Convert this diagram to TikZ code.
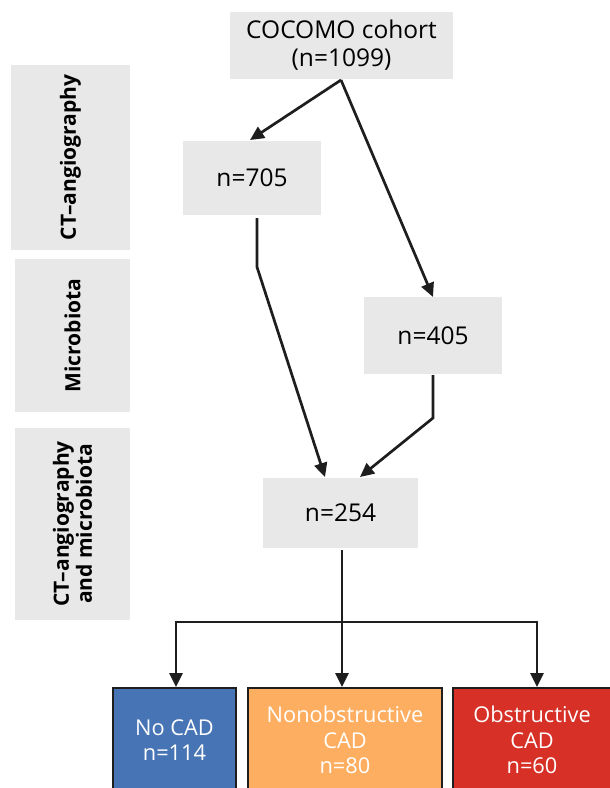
\documentclass[tikz,border=0pt]{standalone}
\usepackage{fontspec}
\setmainfont{Open Sans}
\usetikzlibrary{arrows.meta}
\definecolor{boxgray}{HTML}{E8E8E8}
\definecolor{cadblue}{HTML}{4674B4}
\definecolor{cadorange}{HTML}{FDAE61}
\definecolor{cadred}{HTML}{D73027}
\definecolor{linedark}{HTML}{1E1E1E}
\tikzset{
  graybox/.style={fill=boxgray, draw=none, inner sep=0pt, align=center, text=black, font=\fontsize{24.5}{28}\selectfont},
  sidebox/.style={fill=boxgray, draw=none, inner sep=0pt},
  sidetext/.style={rotate=90, align=center, font=\bfseries\fontsize{21}{23}\selectfont},
  cadbox/.style={draw=linedark, line width=1.5pt, inner sep=0pt},
  cadtext/.style={text=white, align=center, font=\fontsize{21.8}{25.5}\selectfont},
  conn/.style={draw=linedark, line width=2.7pt, -{Triangle[length=14pt,width=13pt]}},
  plain/.style={draw=linedark, line width=2.7pt}
}
\begin{document}
\begin{tikzpicture}[x=1pt,y=-1pt]
\useasboundingbox (0,0) rectangle (610,788);
\clip (0,0) rectangle (610,788);
% side labels
\node[sidebox, minimum width=119pt, minimum height=185pt] (s1) at (70.5,157.5) {};
\node[sidetext] at (s1) {CT--angiography};
\node[sidebox, minimum width=115pt, minimum height=153pt] (s2) at (72.5,335.5) {};
\node[sidetext] at (s2) {Microbiota};
\node[sidebox, minimum width=115pt, minimum height=192pt] (s3) at (72.5,524) {};
\node[sidetext] at (s3) {CT--angiography\\and microbiota};
% gray boxes
\node[graybox, minimum width=223pt, minimum height=67pt] (top) at (341.5,45.5) {COCOMO cohort\\(n=1099)};
\node[graybox, minimum width=138pt, minimum height=74pt] (a) at (252,178) {n=705};
\node[graybox, minimum width=138pt, minimum height=77pt] (b) at (433,335.5) {n=405};
\node[graybox, minimum width=155pt, minimum height=70pt] (c) at (340.5,513) {n=254};
% bottom boxes
\path[cadbox, fill=cadblue] (113,688) rectangle (236,800);
\path[cadbox, fill=cadorange] (248,688) rectangle (442,800);
\path[cadbox, fill=cadred] (453,688) rectangle (620,800);
\node[cadtext] (d1) at (174.5,740) {No CAD\\n=114};
\node[cadtext] (d2) at (345,740) {Nonobstructive\\CAD\\n=80};
\node[cadtext] (d3) at (532,740) {Obstructive\\CAD\\n=60};
\coordinate (t1) at (176,687);
\coordinate (t2) at (342,687);
\coordinate (t3) at (537,687);
% connectors
\coordinate (o) at (341,80);
\draw[conn] (o) -- (250,140);
\draw[conn] (o) -- (433,297);
\coordinate (abend) at (257,267);
\draw[conn] (257,218) -- (abend) -- (325,477);
\coordinate (bbend) at (433,418);
\draw[conn] (433,375) -- (bbend) -- (360,477);
\draw[conn] (342,550) -- (t2);
\draw[plain] (176,622) -- (537,622);
\draw[conn] (176,620.7) -- (t1);
\draw[conn] (537,620.7) -- (t3);
\end{tikzpicture}
\end{document}
